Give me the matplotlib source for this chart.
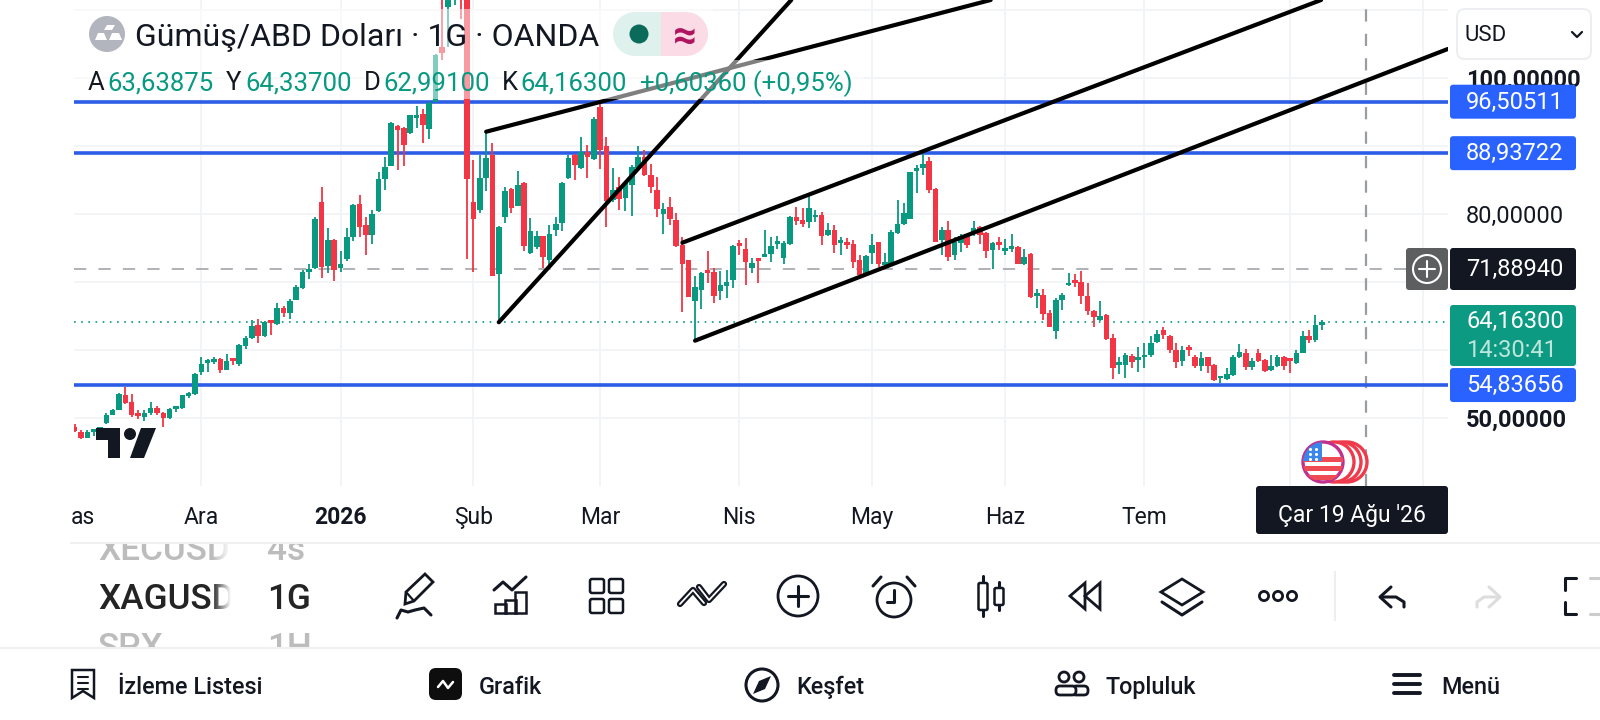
import numpy as np
import matplotlib
matplotlib.use("Agg")
import matplotlib.pyplot as plt
from matplotlib.patches import Circle, FancyBboxPatch, Polygon, Rectangle

plt.rcParams['font.family'] = ['Roboto', 'DejaVu Sans']

# daily candles, XAGUSD
opens = [48.6,48.0,47.1,48.0,48.2,49.2,50.5,51.2,53.3,52.3,
    50.5,50.1,50.7,51.5,50.7,50.0,51.3,51.4,53.2,53.5,
    56.7,58.1,58.2,58.6,57.1,58.5,58.0,60.6,61.7,63.6,
    62.0,64.1,63.8,66.1,65.5,67.4,69.1,71.5,72.0,81.8,
    72.4,76.1,72.0,73.3,76.6,81.5,78.3,76.9,80.4,85.1,
    87.1,92.9,92.7,91.9,94.1,94.7,92.5,96.5,104.6,110.4,
    112,118,115,81.8,80.6,85.3,88.7,71.1,79.6,83.7,
    81.1,84.6,74.2,75.2,76.7,73.2,77.6,78.6,85.3,88.7,
    86.7,89.1,88.1,95.7,90.0,82.0,83.9,82.4,84.2,86.8,
    88.3,85.7,83.5,80.0,81.0,79.1,75.5,73.2,67.2,68.8,
    71.5,71.5,68.6,69.4,70.3,75.5,74.9,72.0,73.2,73.7,
    74.1,75.6,73.5,75.6,79.5,79.1,78.8,79.5,79.8,76.9,
    77.6,75.7,75.6,75.6,73.2,71.1,74.2,75.8,72.5,72.7,
    77.2,78.5,79.3,86.3,86.8,87.8,83.6,76.1,77.6,74.0,
    75.7,77.0,77.0,78.1,77.2,74.7,75.6,74.6,74.9,75.2,
    72.6,74.1,68.0,68.1,65.4,62.8,67.4,69.5,70.0,70.0,
    67.9,65.7,64.4,65.1,61.7,57.8,57.8,59.1,58.5,58.9,
    59.2,61.1,62.9,62.1,60.0,58.3,60.2,58.9,57.6,58.9,
    57.8,55.8,55.7,56.3,58.9,59.6,57.5,59.5,58.5,57.1,
    57.7,59.0,58.6,58.1,59.6,62.1,61.4,63.63875]
highs = [49.1,48.2,48.2,48.3,48.6,50.7,51.3,53.7,54.5,53.5,
    51.2,51.1,52.4,51.8,50.8,51.4,51.8,53.4,53.8,56.6,
    58.9,58.6,59.0,58.8,59.4,58.6,60.9,62.0,64.4,64.6,
    64.2,64.2,66.9,66.5,67.5,69.5,71.7,72.6,79.5,84.0,
    78.0,76.3,74.6,77.9,81.5,82.8,79.6,80.6,86.2,88.4,
    93.5,93.1,92.8,94.6,95.9,95.5,96.5,103.5,113,116,
    118,121,120,88.0,88.7,92.1,90.4,78.2,84.0,83.8,
    86.3,84.7,79.4,77.5,76.8,78.3,79.5,84.7,88.7,88.8,
    91.3,90.1,94.2,96.3,91.3,86.8,85.5,84.7,87.2,90.0,
    89.4,87.4,85.4,81.6,82.5,80.2,76.6,73.2,70.9,71.4,
    74.5,72.1,71.6,71.8,75.4,76.2,76.4,73.5,73.3,77.6,
    76.6,76.8,76.0,79.7,81.0,80.9,83.0,80.6,80.3,78.6,
    78.4,76.6,76.4,76.2,73.9,73.9,77.0,75.9,74.2,77.6,
    82.0,81.6,86.2,87.2,89.4,88.4,83.8,78.1,78.9,76.6,
    77.0,77.1,78.9,78.2,77.4,75.9,76.6,76.3,77.0,75.3,
    74.9,74.2,69.0,69.0,65.9,67.6,68.3,71.3,71.2,71.6,
    69.8,65.9,67.2,65.3,62.4,59.0,59.6,59.4,60.4,61.0,
    62.0,62.9,63.3,62.2,61.0,60.6,60.7,59.2,59.7,59.0,
    57.9,56.2,57.4,59.2,60.9,60.1,58.8,60.1,58.6,59.2,
    59.2,59.1,58.7,60.0,62.8,62.9,65.1,64.337]
lows = [48.0,46.9,47.0,47.4,47.9,49.1,50.4,51.1,52.1,50.2,
    49.8,49.5,50.4,50.4,48.7,49.8,50.9,51.3,52.9,53.4,
    56.3,56.7,58.0,56.6,57.0,57.8,57.7,60.2,61.6,61.0,
    61.9,62.2,63.7,64.8,64.6,67.3,68.9,70.4,71.9,70.6,
    71.3,70.1,71.5,73.1,76.0,76.6,73.9,75.6,80.3,83.5,
    87.0,86.5,87.0,91.8,92.7,90.4,91.0,96.4,102.6,104.6,
    110.7,108.6,73.3,71.4,80.1,83.4,70.8,64.1,78.6,80.1,
    81.1,74.5,74.1,74.9,72.0,72.5,76.7,77.5,85.2,85.0,
    86.6,85.3,87.9,86.6,78.1,81.8,80.6,80.4,79.7,86.7,
    85.6,83.1,79.5,77.1,78.4,75.2,65.6,67.8,61.2,66.0,
    69.8,66.9,67.4,67.7,69.1,73.9,69.6,71.3,69.9,73.6,
    73.0,74.9,72.7,75.5,78.4,78.1,77.9,78.8,75.4,76.8,
    74.2,73.9,74.9,72.1,71.0,71.0,72.7,72.2,72.2,72.5,
    77.0,78.4,79.2,83.1,85.7,83.1,75.8,73.9,73.1,73.2,
    74.4,75.0,76.8,75.6,73.5,71.9,74.7,73.9,74.4,72.6,
    72.5,67.7,66.2,64.4,63.3,61.6,65.9,69.4,69.2,66.8,
    65.1,63.3,64.3,61.5,55.7,56.5,55.8,57.4,56.7,57.3,
    59.0,61.0,61.6,59.6,57.3,57.7,59.1,57.4,56.9,56.6,
    55.5,55.1,55.6,56.2,58.8,57.1,57.1,58.2,56.8,56.9,
    57.5,57.1,56.6,58.0,59.5,61.0,61.2,62.991]
closes = [48.1,47.1,48.0,48.2,48.5,50.5,51.2,53.5,52.2,50.4,
    50.3,50.7,51.4,50.7,50.0,51.3,51.6,53.3,53.5,56.5,
    58.0,58.4,58.5,57.1,58.3,58.4,60.7,61.8,63.5,62.0,
    64.1,64.0,66.2,65.5,67.2,69.2,71.5,71.8,79.3,72.2,
    76.2,71.8,72.7,76.6,81.3,78.1,76.9,80.0,85.1,86.9,
    93.3,92.4,90.1,94.5,94.5,93.1,96.3,103.4,103.7,114,
    116,115,85.2,79.3,85.3,88.2,70.9,78.1,83.3,80.8,
    84.3,75.3,77.5,76.7,73.6,77.1,78.5,84.6,88.2,87.2,
    89.1,88.3,93.9,89.4,81.9,83.5,82.2,84.5,86.9,88.4,
    85.7,83.9,80.7,80.7,79.3,75.3,72.7,67.8,69.2,71.3,
    71.3,68.0,69.6,70.0,75.3,75.3,72.9,72.8,73.1,74.1,
    75.3,75.8,75.7,79.6,79.0,78.5,80.8,79.7,76.7,77.7,
    75.4,75.9,75.4,73.0,71.0,73.8,75.4,72.6,72.7,77.4,
    78.5,80.2,86.1,86.5,87.4,83.5,75.9,77.7,73.7,75.9,
    76.7,75.4,78.0,76.9,74.6,75.7,75.4,74.8,75.1,72.7,
    73.7,67.8,68.2,65.3,63.4,67.4,68.1,69.9,69.9,68.0,
    65.7,64.9,65.0,61.6,57.4,58.0,59.3,58.2,58.6,59.1,
    61.0,62.3,62.2,60.0,58.2,60.0,60.0,57.7,58.8,57.7,
    55.6,55.9,56.4,58.9,59.7,57.5,58.3,58.4,56.9,57.7,
    59.0,57.7,58.4,59.5,62.1,61.5,63.6,64.163]

month_pos = [20, 42, 63, 83, 105, 126, 147, 169, 192, 213]
month_names = ['Ara', '2026', 'Şub', 'Mar', 'Nis', 'May', 'Haz', 'Tem', '', '']
# 60, 70 and 90 sit behind the price tags
price_ticks = [50, 60, 70, 80, 90, 100, 110]
price_names = ['50,00000', '', '', '80,00000', '', '100,00000', '']

levels = [96.50511, 88.93722, 54.83656]
last_price = 64.163
cross_price = 71.8894
cross_bar = 204

# drawn trend lines: bar, price at both ends
trend_bars = [(67, 113.2), (65, 144.7), (96, 196.9), (98, 216.9)]
trend_prices = [(64.07, 111.46), (92.09, 111.46), (75.77, 111.46), (61.36, 104.25)]

GREEN = '#089981'
RED = '#F23645'
BLUE = '#2962FF'
INK = '#131722'
GRID = '#f3f4f6'

fig = plt.figure(figsize=(16, 7.2), dpi=100)
ax = fig.add_axes([73.5/1600, 1 - 486/720, (1448 - 73.5)/1600, 486/720])
ax.set_xlim(-0.19, 216.95)
ax.set_ylim(39.99, 111.46)
for s in ax.spines.values():
    s.set_visible(False)

ax.set_xticks(month_pos)
ax.set_xticklabels(month_names, fontsize=16.5, color=INK)
ax.set_yticks(price_ticks)
ax.set_yticklabels(price_names, fontsize=17, color=INK)
ax.yaxis.tick_right()
ax.tick_params(axis='both', length=0)
ax.tick_params(axis='x', pad=14.5)
ax.tick_params(axis='y', pad=13)
ax.grid(True, color=GRID, lw=1.4)
ax.set_axisbelow(True)
for lab in ax.get_xticklabels():
    if lab.get_text() == '2026':
        lab.set_fontweight('bold')
for lab in ax.get_yticklabels():
    lab.set_verticalalignment('center_baseline')
    if lab.get_text() in ('100,00000', '50,00000'):
        lab.set_fontweight('bold')

ax.axhline(cross_price, color='#9a9ca3', lw=1.1, ls=(0, (8, 8)), zorder=1)
ax.axvline(cross_bar, color='#9a9ca3', lw=1.6, ls=(0, (5.5, 5.5)), zorder=1)
ax.axhline(last_price, color=GREEN, lw=1.2, ls=(0, (1, 3.3)), zorder=1)

# price levels run under the candles, trend lines over them
for lv in levels:
    ax.axhline(lv, color='#2b5de6', lw=2.6, zorder=1.5)

bars = np.arange(len(opens))
op = np.array(opens)
hi = np.array(highs)
lo = np.array(lows)
cl = np.array(closes)
colors = [GREEN if c >= o else RED for o, c in zip(op, cl)]
ax.vlines(bars, lo, hi, colors=colors, lw=1.3, zorder=2)
ax.bar(bars, np.maximum(np.abs(cl - op), 0.4), bottom=np.minimum(op, cl), width=0.88,
       color=colors, linewidth=0, zorder=2)

for b, p in zip(trend_bars, trend_prices):
    ax.plot(b, p, color='black', lw=3, solid_capstyle='round', zorder=4)

# everything around the chart is placed in screen pixels
ui = fig.add_axes([0, 0, 1, 1])
ui.set_xlim(0, 1600)
ui.set_ylim(720, 0)
ui.axis('off')
ui.patch.set_alpha(0)


def py(p):
    return 101.7 + (96.505 - p) * 6.8


def box(x0, y0, x1, y1, color, r=4, ec='none', lw=0, z=5):
    ui.add_patch(FancyBboxPatch((x0 + r, y0 + r), x1 - x0 - 2*r, y1 - y0 - 2*r,
                                boxstyle='round,pad=%g,rounding_size=%g' % (r, r),
                                fc=color, ec=ec, lw=lw, zorder=z))


def label(x, y, s, color=INK, size=17, weight='normal', ha='left', z=7):
    ui.text(x, y, s, color=color, fontsize=size, fontweight=weight, ha=ha, va='center_baseline', zorder=z)


def stroke(xs, ys, color=INK, lw=2.2, z=7):
    ui.plot(xs, ys, color=color, lw=lw, solid_capstyle='round', solid_joinstyle='round', zorder=z)


# legend veil over the candles
ui.add_patch(Rectangle((73, 9), 640, 51, fc='white', alpha=0.5, lw=0, zorder=2))
ui.add_patch(Rectangle((73, 60), 790, 39, fc='white', alpha=0.5, lw=0, zorder=2))

ui.add_patch(Circle((107, 34), 18, fc='#b2b5be', lw=0, zorder=6))
ui.add_patch(Polygon([[104, 30], [112, 30], [115, 25], [107, 25]], fc='white', lw=0, zorder=7))
ui.add_patch(Polygon([[95, 40], [107, 40], [104, 33], [98, 33]], fc='white', lw=0, zorder=7))
ui.add_patch(Polygon([[109, 40], [122, 40], [119, 33], [112, 33]], fc='white', lw=0, zorder=7))
label(135, 35, 'Gümüş/ABD Doları · 1G · OANDA', size=23)

ui.add_patch(Rectangle((635, 12), 26, 44, fc='#dff1ec', lw=0, zorder=5))
ui.add_patch(Circle((635, 34), 22, fc='#dff1ec', lw=0, zorder=5))
ui.add_patch(Rectangle((661, 12), 25, 44, fc='#fbdce6', lw=0, zorder=5))
ui.add_patch(Circle((686, 34), 22, fc='#fbdce6', lw=0, zorder=5))
ui.add_patch(Circle((639, 34), 9.5, fc='#0b6b5b', lw=0, zorder=6))
label(685, 33, '≈', color='#b0145f', size=30, weight='bold', ha='center')

label(88, 81, 'A', size=18.5)
label(107, 81, '63,63875', GREEN, 18.5)
label(226, 81, 'Y', size=18.5)
label(245, 81, '64,33700', GREEN, 18.5)
label(364, 81, 'D', size=18.5)
label(383, 81, '62,99100', GREEN, 18.5)
label(502, 81, 'K', size=18.5)
label(520, 81, '64,16300', GREEN, 18.5)
label(640, 81, '+0,60360 (+0,95%)', GREEN, 18.5)

# TradingView mark
ui.add_patch(Polygon([[96, 428], [120, 428], [120, 458], [108, 458], [108, 440], [96, 440]], fc=INK, lw=0, zorder=6))
ui.add_patch(Circle((130, 434), 6, fc=INK, lw=0, zorder=6))
ui.add_patch(Polygon([[141, 428], [156, 428], [144, 458], [130, 458]], fc=INK, lw=0, zorder=6))

# price axis
box(1457, 9, 1591, 59, 'white', r=8, ec='#eceef1', lw=1.4)
label(1464, 33, 'USD', size=16)
stroke([1572, 1577, 1582], [32, 37, 32], lw=1.6)


def price_tag(p, s):
    y = py(p)
    box(1450, y - 17, 1576, y + 17, BLUE, r=3)
    label(1466, y - 2, s, 'white')


for lv, s in zip(levels, ['96,50511', '88,93722', '54,83656']):
    price_tag(lv, s)

box(1450, 248, 1576, 290, INK, r=3)
label(1466, 267, '71,88940', 'white')
box(1406, 248, 1448, 290, '#5d5e60', r=3)
ui.add_patch(Circle((1427, 269), 14, fc='none', ec='white', lw=1.5, zorder=7))
stroke([1419, 1435], [269, 269], 'white', 1.5)
stroke([1427, 1427], [261, 277], 'white', 1.5)

box(1450, 305, 1576, 366, '#0d9a83', r=3)
label(1466, 319, '64,16300', 'white')
label(1466, 348, '14:30:41', '#bfe6dd')

# time axis
label(71, 515, 'as', size=16.5)
box(1256, 486, 1448, 534, INK, r=3)
label(1352, 513, "Çar 19 Ağu '26", 'white', 16.5, ha='center')

# economic events marker
for cx in (1347, 1341, 1334):
    ui.add_patch(Circle((cx, 462), 20, fc='white', ec='#ee3a4a', lw=2.4, zorder=5))
flag = Circle((1323, 462), 20, fc='white', ec='#c0308c', lw=2.4, zorder=6)
ui.add_patch(flag)
for k in range(3):
    stripe = Rectangle((1300, 457 + k*9), 46, 5, fc='#ee4b55', lw=0, zorder=6)
    ui.add_patch(stripe)
    stripe.set_clip_path(flag)
canton = Rectangle((1300, 439), 22, 22, fc='#3b86e8', lw=0, zorder=6)
ui.add_patch(canton)
canton.set_clip_path(flag)
ui.scatter([1310, 1316, 1310, 1316, 1310, 1316], [449, 449, 454, 454, 459, 459], s=5, c='white', lw=0, zorder=7)

# toolbar
label(98, 547.5, 'XECUSD', '#bcbcbc', 25.3, 'medium', z=4)
label(267, 547.5, '4s', '#bcbcbc', 25.3, 'medium', z=4)
label(98, 596, 'XAGUSD', '#242424', 25.3, 'medium', z=4)
label(267, 596, '1G', '#242424', 25.3, 'medium', z=4)
label(98, 644.5, 'SPX', '#bcbcbc', 25.3, 'medium', z=4)
label(267, 644.5, '1H', '#bcbcbc', 25.3, 'medium', z=4)
ui.add_patch(Rectangle((90, 530), 240, 13, fc='white', lw=0, zorder=4.5))
ui.add_patch(Rectangle((90, 648), 240, 15, fc='white', lw=0, zorder=4.5))
fade = np.linspace(0, 1, 64).reshape(1, -1)
ui.imshow(np.dstack([np.ones((1, 64, 3)), fade]), extent=(212, 231, 660, 530), aspect='auto', zorder=4.6)
ui.add_patch(Rectangle((231, 530), 30, 130, fc='white', lw=0, zorder=4.6))
ui.set_xlim(0, 1600)
ui.set_ylim(720, 0)
ui.plot([71, 1600], [543, 543], color='#f0f0f0', lw=1.5, zorder=5)
ui.plot([0, 1600], [648, 648], color='#f0f0f0', lw=1.5, zorder=5)

# pencil
ui.add_patch(Polygon([[405, 604], [406, 592], [425, 574], [433, 582], [414, 601]], fc='none', ec=INK, lw=2, zorder=7))
stroke([406, 414], [592, 601], lw=1.6)
stroke([397, 401, 408, 415, 424, 431], [618, 610, 612, 610, 608, 615])
# chart with bars
stroke([494, 503, 512, 526], [590, 582, 590, 577])
for bx, top in ((495, 604), (505, 600), (515, 592)):
    ui.add_patch(Rectangle((bx, top), 11, 613 - top, fc='none', ec=INK, lw=1.8, zorder=7))
# four squares
for sx in (590, 609):
    for sy in (579, 599):
        box(sx, sy, sx + 14, sy + 14, 'white', r=2, ec=INK, lw=1.8, z=7)
# chart patterns
stroke([680, 693, 704], [604, 590, 603], lw=4.5)
stroke([680, 693, 704], [604, 590, 603], 'white', 1.3, 8)
stroke([699, 709, 724], [587, 600, 584], lw=4.5)
stroke([699, 709, 724], [587, 600, 584], 'white', 1.3, 8)
# add
ui.add_patch(Circle((798, 596), 20, fc='none', ec=INK, lw=2, zorder=7))
stroke([788, 808], [596, 596])
stroke([798, 798], [586, 606])
# alarm
ui.add_patch(Circle((894, 600), 17, fc='none', ec=INK, lw=2, zorder=7))
stroke([894, 894, 887], [590, 602, 602])
stroke([873, 881], [586, 577])
stroke([907, 915], [577, 586])
# candles
for cx, y0, y1, w0, w1 in ((983, 583, 610, 576, 616), (999, 588, 605, 582, 610)):
    stroke([cx, cx], [w0, w1])
    box(cx - 4.5, y0, cx + 4.5, y1, 'white', r=1.5, ec=INK, lw=1.8, z=8)
# replay
ui.add_patch(Polygon([[1070, 596], [1085, 583], [1085, 609]], fc='none', ec=INK, lw=2, zorder=7))
ui.add_patch(Polygon([[1085, 596], [1100, 583], [1100, 609]], fc='none', ec=INK, lw=2, zorder=7))
# layers
ui.add_patch(Polygon([[1161, 592], [1182, 579], [1203, 592], [1182, 605]], fc='none', ec=INK, lw=2, zorder=7))
stroke([1162, 1182, 1202], [602, 615, 602])
# more
for cx in (1264, 1278, 1292):
    ui.add_patch(Circle((cx, 596), 4.6, fc='none', ec=INK, lw=2, zorder=7))
ui.plot([1335, 1335], [572, 620], color='#eeeeee', lw=1.5, zorder=5)
# undo, redo
stroke([1391, 1380, 1391], [587, 597, 607])
stroke([1381, 1396, 1404, 1404], [597, 597, 602, 607])
stroke([1489, 1500, 1489], [587, 597, 607], '#dddddd')
stroke([1499, 1484, 1477, 1477], [597, 597, 602, 607], '#dddddd')
# fullscreen
stroke([1576, 1565, 1565], [578, 578, 590])
stroke([1576, 1565, 1565], [614, 614, 602])
stroke([1590, 1600], [578, 578], '#cccccc')
stroke([1590, 1600], [614, 614], '#cccccc')

# bottom navigation
ui.add_patch(Polygon([[72, 670], [94, 670], [94, 698], [83, 691], [72, 698]], fc='none', ec=INK, lw=1.8, zorder=7))
for ly in (677, 683, 689):
    stroke([78, 88], [ly, ly], lw=1.5)
label(118, 685, 'İzleme Listesi', size=16.8, weight='medium')
box(429, 668, 462, 700, '#0e0e0e', r=7, z=7)
stroke([438, 443, 448, 453], [687, 681, 688, 682], 'white', 1.8, 8)
label(479, 685, 'Grafik', size=16.8, weight='medium')
ui.add_patch(Circle((762, 685), 16, fc='none', ec=INK, lw=2.2, zorder=7))
ui.add_patch(Polygon([[771, 676], [765, 689], [753, 694], [759, 681]], fc=INK, lw=0, zorder=7))
label(796, 685, 'Keşfet', size=16.8, weight='medium')
ui.add_patch(Circle((1064, 677), 5, fc='none', ec=INK, lw=2, zorder=7))
ui.add_patch(Circle((1079, 677), 5, fc='none', ec=INK, lw=2, zorder=7))
box(1056, 686, 1076, 695, 'white', r=4, ec=INK, lw=2, z=7)
box(1072, 686, 1088, 695, 'white', r=4, ec=INK, lw=2, z=6)
label(1105, 685, 'Topluluk', size=16.8, weight='medium')
for ly in (675, 684, 693):
    stroke([1394, 1420], [ly, ly], lw=2.8)
label(1441, 685, 'Menü', size=16.8, weight='medium')

fig.savefig('out.png', dpi=100)
